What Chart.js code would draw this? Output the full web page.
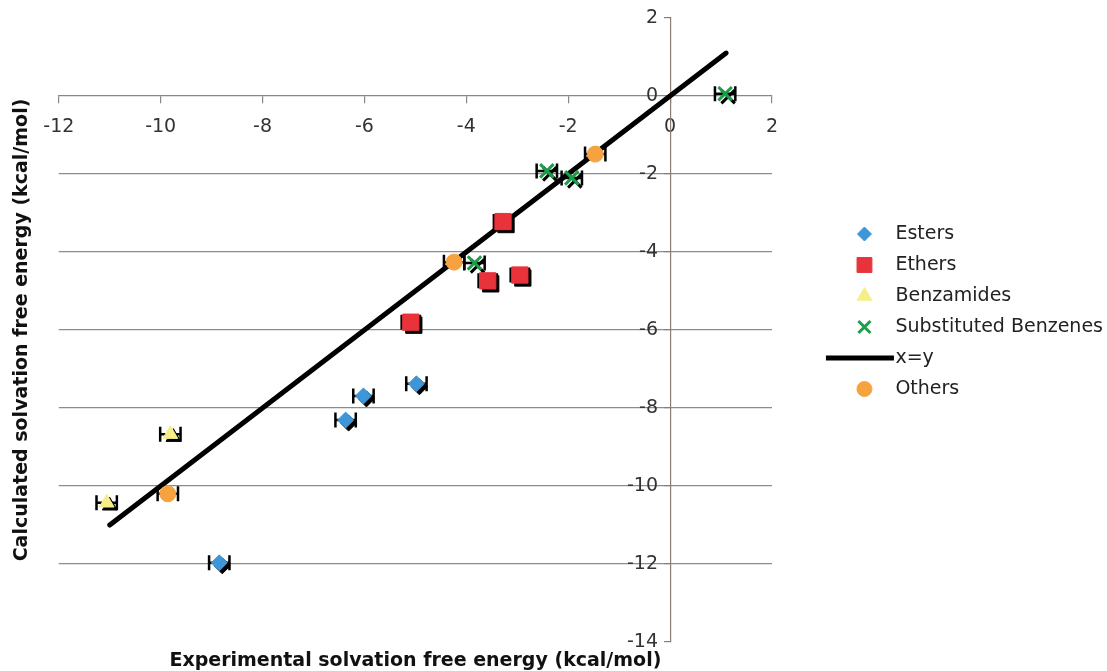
<!DOCTYPE html>
<html>
<head>
<meta charset="utf-8">
<script src="https://cdn.jsdelivr.net/npm/chart.js@4/dist/chart.umd.min.js"></script>
<style>
  html, body { margin: 0; padding: 0; background: #fff; }
  #wrap { width: 1107px; height: 671px; }
</style>
</head>
<body>
<div id="wrap"><canvas id="solvChart" width="1107" height="671"></canvas></div>
<script>
// values (kcal/mol)
const esterX = [-8.85, -6.37, -6.02, -4.98];
const esterY = [-11.97, -8.31, -7.69, -7.38];
const esterErr = [0.2, 0.2, 0.2, 0.2];

const etherX = [-3.28, -3.58, -2.95, -5.09];
const etherY = [-3.22, -4.74, -4.59, -5.80];
const etherErr = [0.18, 0.18, 0.18, 0.18];

const benzamideX = [-9.81, -11.06];
const benzamideY = [-8.67, -10.43];
const benzamideErr = [0.2, 0.2];

const subBenzX = [1.08, -2.42, -1.93, -3.84];
const subBenzY = [0.06, -1.92, -2.10, -4.28];
const subBenzErr = [0.2, 0.2, 0.2, 0.2];

const otherX = [-1.47, -4.24, -9.86];
const otherY = [-1.49, -4.26, -10.20];
const otherErr = [0.2, 0.2, 0.2];

const lineX = [-11, 1.1];
const lineY = [-11, 1.1];

const xTitle = "Experimental solvation free energy (kcal/mol)";
const yTitle = "Calculated solvation free energy (kcal/mol)";

const PLOT_RIGHT = 772;   // right edge of plot area
const LEGEND_SHIFT = -33; // move legend block up
const ICON_W = 50;        // legend icon slot width

Chart.defaults.font.family = "'DejaVu Sans', Verdana, sans-serif";
Chart.defaults.color = "#222";

function pts(xs, ys) {
  return xs.map((x, i) => ({ x, y: ys[i] }));
}

// legend icons: marker sits left in the slot, x=y gets a long bar
function legendIcon(style, color, radius, bw) {
  const c = document.createElement("canvas");
  c.width = 112;
  c.height = 24;
  const g = c.getContext("2d");
  g.fillStyle = color;
  g.strokeStyle = color;
  if (style === "line") {
    g.lineWidth = 5;
    g.beginPath();
    g.moveTo(21, 12);
    g.lineTo(89, 12);
    g.stroke();
  } else {
    g.lineWidth = bw;
    Chart.helpers.drawPoint(g, { pointStyle: style, radius, borderWidth: bw }, 59.5, 12);
  }
  return c;
}

function series(label, xs, ys, errs, style, color, radius, bw, order, shadow, legendR) {
  return {
    label,
    data: pts(xs, ys),
    xErr: errs,
    shadow,
    pointStyle: style,
    pointRadius: radius,
    pointBorderWidth: bw,
    backgroundColor: color,
    borderColor: color,
    order,
    legendIcon: legendIcon(style, color, legendR, bw)
  };
}

// horizontal error bars + black drop shadow under each marker
const errorBars = {
  id: "errorBars",
  beforeDatasetDraw(chart, args) {
    const ds = chart.data.datasets[args.index];
    if (!ds.xErr) return;
    const ctx = chart.ctx;
    const xs = chart.scales.x;
    ctx.save();
    ctx.strokeStyle = "#000";
    ctx.fillStyle = "#000";
    args.meta.data.forEach((pt, i) => {
      const raw = ds.data[i];
      const x0 = xs.getPixelForValue(raw.x - ds.xErr[i]);
      const x1 = xs.getPixelForValue(raw.x + ds.xErr[i]);
      const y = pt.y;
      ctx.lineWidth = 2.5;
      ctx.beginPath();
      ctx.moveTo(x0, y);
      ctx.lineTo(x1, y);
      ctx.moveTo(x0, y - 7.5);
      ctx.lineTo(x0, y + 7.5);
      ctx.moveTo(x1, y - 7.5);
      ctx.lineTo(x1, y + 7.5);
      ctx.stroke();
      if (ds.shadow) {
        ctx.lineWidth = ds.pointBorderWidth;
        Chart.helpers.drawPoint(ctx, {
          pointStyle: ds.pointStyle,
          radius: ds.pointRadius,
          borderWidth: ds.pointBorderWidth
        }, pt.x + 3, pt.y + 3);
      }
    });
    ctx.restore();
  }
};

const legendShift = {
  id: "legendShift",
  afterLayout(chart) {
    chart.legend.top += LEGEND_SHIFT;
    chart.legend.bottom += LEGEND_SHIFT;
  }
};

const lineData = {
  label: "x=y",
  type: "line",
  data: pts(lineX, lineY),
  showLine: true,
  borderColor: "#000",
  borderWidth: 5,
  borderCapStyle: "round",
  pointRadius: 0,
  order: 2,
  legendIcon: legendIcon("line", "#000")
};

new Chart(document.getElementById("solvChart"), {
  type: "scatter",
  data: {
    datasets: [
      series("Esters", esterX, esterY, esterErr, "rectRot", "#3d96d8", 8, 1, 1, true, 7),
      series("Ethers", etherX, etherY, etherErr, "rect", "#e8333a", 11.5, 1, 1, true, 10.5),
      series("Benzamides", benzamideX, benzamideY, benzamideErr, "triangle", "#f6ee86", 8.5, 1, 1, true, 8.5),
      series("Substituted Benzenes", subBenzX, subBenzY, subBenzErr, "crossRot", "#1c9d4a", 9.5, 3, 1, true, 8.5),
      lineData,
      series("Others", otherX, otherY, otherErr, "circle", "#f6a23f", 8, 1, 0, false, 7.5)
    ]
  },
  options: {
    responsive: false,
    animation: false,
    layout: { padding: { left: 4, top: 18, right: -6, bottom: 0 } },
    scales: {
      x: {
        type: "linear",
        position: { y: 0 },
        min: -12,
        max: 2,
        ticks: { stepSize: 2, color: "#333", font: { size: 19 }, padding: 13 },
        grid: { drawOnChartArea: false, drawTicks: true, tickLength: 7, color: "#888", lineWidth: 1.2 },
        border: { color: "#888", width: 1.2 }
      },
      y: {
        type: "linear",
        position: { x: 0 },
        min: -14,
        max: 2,
        ticks: {
          stepSize: 2,
          color: "#333",
          font: { size: 19 },
          // labels sit right on the axis line here, so pad them with spaces
          callback: v => v + "  "
        },
        grid: {
          color: c => (c.tick && [2, 0, -14].includes(c.tick.value)) ? "rgba(0,0,0,0)" : "#8c8c8c",
          tickColor: "#8a7d75",
          tickLength: 6,
          lineWidth: 1.2
        },
        border: { color: "#8a7d75", width: 1.2 }
      },
      pad: {
        type: "linear",
        axis: "y",
        position: "right",
        ticks: { display: false },
        grid: { display: false },
        border: { display: false },
        afterFit: s => { s.width = s.chart.width + 6 - PLOT_RIGHT - s.chart.legend.width; }
      }
    },
    plugins: {
      legend: {
        position: "right",
        maxWidth: 380,
        labels: {
          usePointStyle: true,
          pointStyleWidth: ICON_W,
          padding: 12,
          color: "#222",
          font: { size: 19 },
          sort: (a, b) => a.datasetIndex - b.datasetIndex,
          generateLabels(chart) {
            const items = Chart.defaults.plugins.legend.labels.generateLabels(chart);
            items.forEach(it => { it.pointStyle = chart.data.datasets[it.datasetIndex].legendIcon; });
            return items;
          }
        }
      },
      title: {
        display: true,
        position: "bottom",
        fullSize: false,
        text: xTitle,
        color: "#111",
        font: { size: 19, weight: "bold", lineHeight: 1 },
        padding: { top: 10, bottom: 0 }
      },
      subtitle: {
        display: true,
        position: "left",
        fullSize: false,
        text: yTitle,
        color: "#111",
        font: { size: 19, weight: "bold" },
        padding: { top: 7, bottom: 25 }
      },
      tooltip: { enabled: false }
    }
  },
  plugins: [errorBars, legendShift]
});
</script>
</body>
</html>
